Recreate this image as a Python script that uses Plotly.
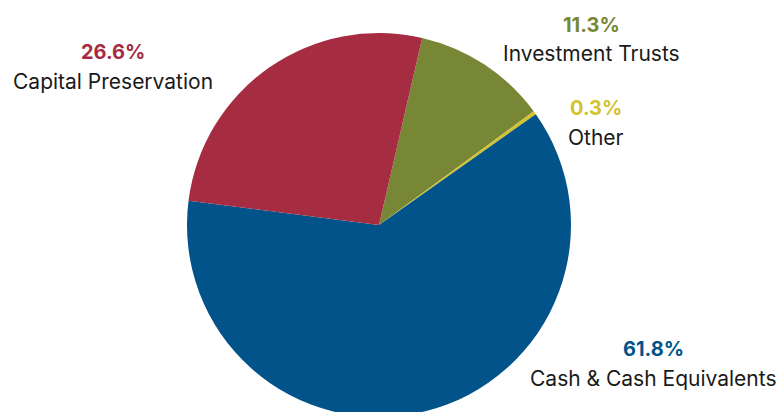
import plotly.graph_objects as go

# slice data, clockwise from the top (after rotation)
labels = ["Investment Trusts", "Other", "Cash & Cash Equivalents", "Capital Preservation"]
values = [11.3, 0.3, 61.8, 26.6]
colors = ["#778735", "#D2C22C", "#02538A", "#A62C42"]

# label placement on screen in pixels (centre x, centre y of the percent line)
label_pos = {
    "Investment Trusts": (591, 25),
    "Other": (596, 108),
    "Cash & Cash Equivalents": (653, 349),
    "Capital Preservation": (113, 52),
}

W, H = 784, 412
OFF = 8  # page body margin
FONT = "Inter"

# pie centre / radius on screen
cx, cy, r = 379 - OFF, 225 - OFF, 192

fig = go.Figure(
    go.Pie(
        labels=labels,
        values=values,
        marker=dict(colors=colors, line=dict(width=0)),
        sort=False,
        direction="clockwise",
        rotation=13,
        textinfo="none",
        hoverinfo="label+percent",
        showlegend=False,
        domain=dict(x=[(cx - r) / W, (cx + r) / W], y=[1 - (cy + r) / H, 1 - (cy - r) / H]),
    )
)

for lab, val, col in zip(labels, values, colors):
    px, py = label_pos[lab]
    fig.add_annotation(
        x=(px - OFF) / W, y=1 - (py - OFF) / H, xref="paper", yref="paper",
        text=f"<b>{val:.1f}%</b>", showarrow=False,
        font=dict(family=FONT, size=20, color=col),
        xanchor="center", yanchor="middle",
    )
    fig.add_annotation(
        x=(px - OFF) / W, y=1 - (py + 29 - OFF) / H, xref="paper", yref="paper",
        text=lab, showarrow=False,
        font=dict(family=FONT, size=21, color="#1a1a1a"),
        xanchor="center", yanchor="middle",
    )

fig.update_layout(
    width=W,
    height=H,
    margin=dict(l=0, r=0, t=0, b=0),
    paper_bgcolor="white",
    plot_bgcolor="white",
)

fig.write_html("out.html")
